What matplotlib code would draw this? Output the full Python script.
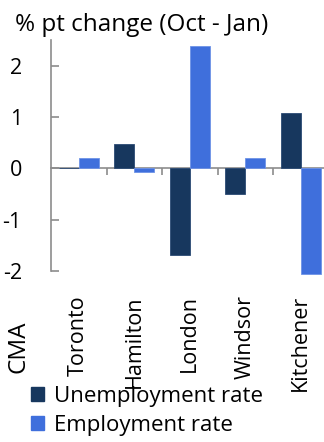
import matplotlib
matplotlib.use("Agg")
import matplotlib.pyplot as plt
from matplotlib.patches import Patch
from matplotlib.transforms import blended_transform_factory

plt.rcParams["axes.unicode_minus"] = False

cities = ["Toronto", "Hamilton", "London", "Windsor", "Kitchener"]
unemployment = [0.0, 0.48, -1.68, -0.5, 1.08]
employment = [0.2, -0.07, 2.38, 0.2, -2.05]
yticks = [-2, -1, 0, 1, 2]

dark = "#17375E"
blue = "#3F6FDC"
grey = "#8C8C8C"
font = "Open Sans"

W, H = 324, 442
fig = plt.figure(figsize=(W / 100, H / 100), dpi=100)
# axes spans x 51..328.5 px, y 40..271 px (from top)
ax = fig.add_axes([51 / W, (H - 271) / H, 277.5 / W, 231 / H])

x = list(range(len(cities)))
bw = 0.36
ax.bar([i - bw / 2 for i in x], unemployment, bw, color=dark,
       edgecolor="#2B4A74", linewidth=0.6, clip_on=False, zorder=3)
ax.bar([i + bw / 2 for i in x], employment, bw, color=blue,
       edgecolor="#6E93E6", linewidth=0.6, clip_on=False, zorder=3)

ax.set_xlim(-0.5, len(cities) - 0.5)
ax.set_ylim(-2, 2.5)

for s in ["top", "right"]:
    ax.spines[s].set_visible(False)
ax.spines["bottom"].set_position(("data", 0))
ax.spines["bottom"].set_color(grey)
ax.spines["left"].set_color(grey)
ax.spines["bottom"].set_linewidth(1.2)
ax.spines["left"].set_linewidth(1.2)
ax.spines["left"].set_bounds(-2, 2.5)

ax.set_xticks([i + 0.5 for i in x[:-1]])
ax.set_xticklabels([])
ax.tick_params(axis="x", direction="out", length=5, width=1.2, color=grey)
ax.set_yticks(yticks)
ax.set_yticklabels([str(v) for v in yticks], fontfamily=font, fontsize=15.5)
ax.tick_params(axis="y", direction="in", length=6, width=1.2, color=grey, pad=21)

trans = blended_transform_factory(ax.transData, fig.transFigure)
for i, name in enumerate(cities):
    ax.text(i, (H - 295) / H, name, transform=trans, rotation=90,
            ha="center", va="top", fontfamily=font, fontsize=15.5)
fig.text(18 / W, (H - 347) / H, "CMA", rotation=90, ha="center", va="center",
         fontfamily=font, fontsize=17.5)

fig.text(15 / W, (H - 31) / H, "% pt change (Oct - Jan)", ha="left",
         va="baseline", fontfamily=font, fontsize=17.5)

handles = [Patch(facecolor=dark, edgecolor=dark, label="Unemployment rate"),
           Patch(facecolor=blue, edgecolor=blue, label="Employment rate")]
fig.legend(handles=handles, loc="upper left", bbox_to_anchor=(31 / W, (H - 386) / H),
           frameon=False, prop={"family": font, "size": 16},
           handlelength=0.6, handleheight=0.6, handletextpad=0.45,
           labelspacing=0.35, borderaxespad=0, borderpad=0)

fig.savefig("out.png", dpi=100)
